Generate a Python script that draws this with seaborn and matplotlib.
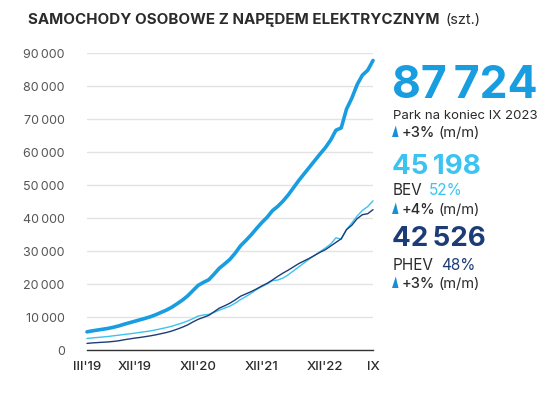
import numpy as np
import pandas as pd
import matplotlib
matplotlib.use('Agg')
import matplotlib.pyplot as plt
import seaborn as sns
from matplotlib.ticker import FixedLocator, FuncFormatter
from matplotlib.patches import Polygon

# Monthly data, III 2019 .. IX 2023
months = pd.period_range('2019-03', '2023-09', freq='M').strftime('%Y-%m').tolist()
bev = [3500, 3650, 3800, 3950, 4100, 4300, 4500, 4700, 4900, 5100,
       5350, 5550, 5800, 6100, 6450, 6800, 7200, 7700, 8200, 8800,
       9500, 10300, 10600, 10800, 11400, 12100, 12700, 13300, 14200, 15300,
       16200, 17200, 18300, 19200, 20000, 21000, 21200, 21800, 22800, 24000,
       25200, 26400, 27600, 28700, 29800, 30900, 32100, 34000, 33600, 36500,
       38500, 40600, 42300, 43460, 45198]
phev = [2000, 2150, 2250, 2350, 2450, 2600, 2800, 3100, 3350, 3600,
        3800, 4050, 4300, 4600, 4950, 5300, 5750, 6300, 6900, 7600,
        8500, 9300, 9900, 10500, 11600, 12700, 13400, 14200, 15200, 16300,
        17000, 17700, 18500, 19400, 20200, 21200, 22300, 23300, 24200, 25200,
        26200, 27000, 27800, 28700, 29600, 30400, 31500, 32600, 33700, 36500,
        37800, 39800, 41000, 41300, 42526]
total = [5500, 5800, 6050, 6300, 6550, 6900, 7300, 7800, 8250, 8700,
         9150, 9600, 10100, 10700, 11400, 12100, 12950, 14000, 15100, 16400,
         18000, 19600, 20500, 21300, 23000, 24800, 26100, 27500, 29400, 31600,
         33200, 34900, 36800, 38600, 40200, 42200, 43500, 45100, 47000, 49200,
         51400, 53400, 55400, 57400, 59400, 61300, 63600, 66600, 67300, 73000,
         76300, 80400, 83300, 84760, 87724]

yticks = [0, 10000, 20000, 30000, 40000, 50000, 60000, 70000, 80000, 90000]
xlabel_pos = {0: "III'19", 9: "XII'19", 21: "XII'20", 33: "XII'21", 45: "XII'22", 54: "IX"}

C_TOTAL = '#189de0'
C_BEV = '#3cc3f0'
C_PHEV = '#1c3c78'
C_TEXT = '#2b2b2b'
C_GRAY = '#555555'

df = pd.DataFrame({'idx': np.arange(len(months)), 'month': months,
                   'BEV': bev, 'PHEV': phev, 'Razem': total})

sns.set_theme(style='white')
plt.rcParams['font.family'] = ['Inter', 'DejaVu Sans']

W, H = 557, 402
fig = plt.figure(figsize=(W / 100, H / 100), dpi=100)
ax = fig.add_axes([87 / W, 1 - 351 / H, (373 - 87) / W, (351 - 54) / H])

sns.lineplot(data=df, x='idx', y='BEV', ax=ax, color=C_BEV, linewidth=1.0, clip_on=False)
sns.lineplot(data=df, x='idx', y='PHEV', ax=ax, color=C_PHEV, linewidth=1.0, clip_on=False)
sns.lineplot(data=df, x='idx', y='Razem', ax=ax, color=C_TOTAL, linewidth=2.6,
             clip_on=False, solid_capstyle='round')

ax.set_xlim(0, len(months) - 1)
ax.set_ylim(0, 90000)
ax.set_yticks(yticks)
ax.set_yticklabels([f'{v:,}'.replace(',', '\u2009') if v else '0' for v in yticks])
ax.yaxis.grid(True, color='#e3e3e3', linewidth=1.0)
ax.set_axisbelow(True)
for s in ['top', 'right', 'left']:
    ax.spines[s].set_visible(False)
ax.spines['bottom'].set_color('#333333')
ax.spines['bottom'].set_linewidth(1.0)
ax.set_xlabel('')
ax.set_ylabel('')

ax.xaxis.set_major_locator(FixedLocator([9, 21, 33, 45]))
ax.xaxis.set_major_formatter(FuncFormatter(lambda v, p: xlabel_pos.get(int(round(v)), '')))
ax.xaxis.set_minor_locator(FixedLocator(list(range(len(months)))))
ax.xaxis.set_minor_formatter(FuncFormatter(lambda v, p: xlabel_pos.get(int(round(v)), '') if int(round(v)) in (0, 54) else ''))
ax.tick_params(axis='x', which='major', direction='out', length=6, width=1.0, color='#333333',
               labelsize=9.5, labelcolor=C_TEXT, pad=1)
ax.tick_params(axis='x', which='minor', direction='out', length=3.5, width=0.8, color='#555555',
               labelsize=9.5, labelcolor=C_TEXT, pad=3.5)
ax.tick_params(axis='y', length=0, labelsize=9, labelcolor=C_GRAY, pad=16)
for lab in ax.get_xticklabels(which='both'):
    lab.set_fontweight('medium')


def fx(px):
    return px / W


def fy(py):
    return 1 - py / H


renderer = fig.canvas.get_renderer()


def text_run(px, py, parts):
    # parts: (text, size, color, weight, gap in px before)
    x = px
    for txt, size, color, weight, gap in parts:
        x += gap
        t = fig.text(fx(x), fy(py), txt, fontsize=size, color=color, fontweight=weight,
                     va='center', ha='left')
        x = t.get_window_extent(renderer).x1
    return x


def up_arrow(px, py):
    # small "up" triangle drawn before the m/m change
    tri = Polygon([[fx(px), fy(py + 4.5)], [fx(px + 6.5), fy(py + 4.5)], [fx(px + 3.8), fy(py - 7)]],
                  closed=True, transform=fig.transFigure, color='#1a8fd8', lw=0)
    fig.patches.append(tri)


# title
text_run(28, 20, [('SAMOCHODY OSOBOWE Z NAPĘDEM ELEKTRYCZNYM', 10.9, C_TEXT, 'bold', 0),
                  ('(szt.)', 10.5, C_TEXT, 'normal', 6)])

# right-side summary
fig.text(fx(392), fy(86), '87\u2009724', fontsize=32, fontweight='bold', color=C_TOTAL,
         va='center', ha='left')
fig.text(fx(393), fy(116), 'Park na koniec IX 2023', fontsize=9.5, color=C_TEXT, va='center')
up_arrow(392, 133.5)
text_run(402, 133, [('+3%', 10.5, C_TEXT, 'medium', 0), ('(m/m)', 10.5, C_TEXT, 'normal', 3)])

fig.text(fx(392), fy(167), '45\u2009198', fontsize=20, fontweight='bold', color=C_BEV,
         va='center', ha='left')
text_run(393, 191, [('BEV', 11, C_TEXT, 'normal', 0), ('52%', 11, C_BEV, 'normal', 6)])
up_arrow(392, 210.5)
text_run(402, 210, [('+4%', 10.5, C_TEXT, 'medium', 0), ('(m/m)', 10.5, C_TEXT, 'normal', 3)])

fig.text(fx(392), fy(239), '42\u2009526', fontsize=20, fontweight='bold', color=C_PHEV,
         va='center', ha='left')
text_run(393, 265, [('PHEV', 11, C_TEXT, 'normal', 0), ('48%', 11, C_PHEV, 'normal', 7)])
up_arrow(392, 284.5)
text_run(402, 284, [('+3%', 10.5, C_TEXT, 'medium', 0), ('(m/m)', 10.5, C_TEXT, 'normal', 3)])

fig.savefig('out.png', dpi=100, facecolor='white')
